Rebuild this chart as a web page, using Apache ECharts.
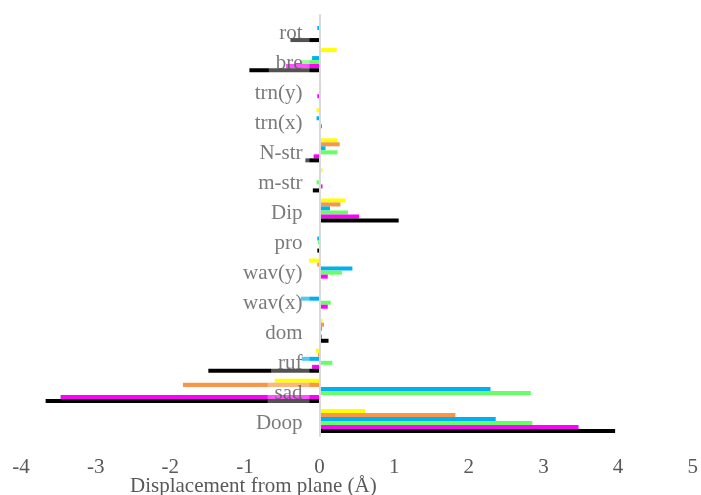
<!DOCTYPE html>
<html>
<head>
<meta charset="utf-8">
<script src="https://cdn.jsdelivr.net/npm/echarts@6/dist/echarts.min.js"></script>
<style>
  html, body { margin: 0; padding: 0; background: #fff; }
  #chart { width: 701px; height: 495px; }
</style>
</head>
<body>
<div id="chart"></div>
<script>
// Out-of-plane displacement components, listed top to bottom
const categories = ['rot', 'bre', 'trn(y)', 'trn(x)', 'N-str', 'm-str', 'Dip', 'pro', 'wav(y)', 'wav(x)', 'dom', 'ruf', 'sad', 'Doop'];

const yellowValues  = [0, 0.23, 0.01, -0.04, 0.24, 0.04, 0.35, 0.02, -0.14, 0.02, 0.04, -0.05, -0.60, 0.61];
const orangeValues  = [0, 0.02, 0, 0, 0.27, 0, 0.28, 0, -0.03, 0, 0.06, -0.02, -1.83, 1.82];
const blueValues    = [-0.03, -0.10, 0.02, -0.04, 0.08, 0, 0.14, -0.03, 0.44, -0.25, 0.03, -0.24, 2.29, 2.36];
const greenValues   = [0, -0.25, 0, 0, 0.24, -0.04, 0.38, -0.02, 0.30, 0.15, 0.01, 0.17, 2.83, 2.85];
const magentaValues = [0, -0.45, -0.03, 0.03, -0.08, 0.04, 0.53, 0.01, 0.11, 0.11, 0.03, -0.10, -3.47, 3.47];
const blackValues   = [-0.39, -0.94, 0, 0, -0.19, -0.09, 1.06, -0.03, 0, 0, 0.12, -1.49, -3.67, 3.96];

const xTicks = { min: -4, max: 5, interval: 1 };
const axisTitle = 'Displacement from plane (Å)';

const seriesDefs = [
  { name: 'yellow',  color: '#FFFF00', data: yellowValues },
  { name: 'orange',  color: '#F79646', data: orangeValues },
  { name: 'blue',    color: '#00B0F0', data: blueValues },
  { name: 'green',   color: '#66FF66', data: greenValues },
  { name: 'magenta', color: '#FF00FF', data: magentaValues },
  { name: 'black',   color: '#000000', data: blackValues }
];

const font = 'Liberation Serif, Times New Roman, serif';

const chart = echarts.init(document.getElementById('chart'), null, { renderer: 'canvas' });

// Bars for each displacement component
const barSeries = seriesDefs.map(s => ({
  name: s.name,
  type: 'bar',
  data: s.data,
  barGap: '0%',
  barCategoryGap: '20%',
  itemStyle: { color: s.color },
  z: 2
}));

// Category names sit just left of the zero line, over the bars,
// on a translucent white box
const nameSeries = {
  name: 'names',
  type: 'scatter',
  data: categories.map(c => [0, c]),
  symbolSize: 0,
  silent: true,
  z: 4,
  label: {
    show: true,
    position: 'left',
    distance: 10,
    offset: [0, 3],
    formatter: p => p.value[1],
    fontFamily: font,
    fontSize: 21,
    color: '#595959',
    backgroundColor: 'rgba(255,255,255,0.4)',
    padding: [1, 7, 1, 7]
  }
};

chart.setOption({
  animation: false,
  backgroundColor: '#ffffff',
  title: {
    text: axisTitle,
    left: 130,
    top: 476,
    padding: 0,
    textStyle: { fontFamily: font, fontSize: 21, fontWeight: 'normal', color: '#595959' }
  },
  grid: { left: 21, right: 6, top: 15, bottom: 59, containLabel: false },
  xAxis: {
    type: 'value',
    min: xTicks.min,
    max: xTicks.max,
    interval: xTicks.interval,
    axisLine: { show: false },
    axisTick: { show: false },
    splitLine: { show: false },
    axisLabel: { fontFamily: font, fontSize: 21, color: '#595959', margin: 21 }
  },
  yAxis: {
    type: 'category',
    inverse: true,
    data: categories,
    z: 5,
    axisLine: { onZero: true, lineStyle: { color: '#D9D9D9', width: 2 } },
    axisTick: { show: false },
    splitLine: { show: false },
    axisLabel: { show: false }
  },
  series: barSeries.concat([nameSeries])
});
</script>
</body>
</html>
